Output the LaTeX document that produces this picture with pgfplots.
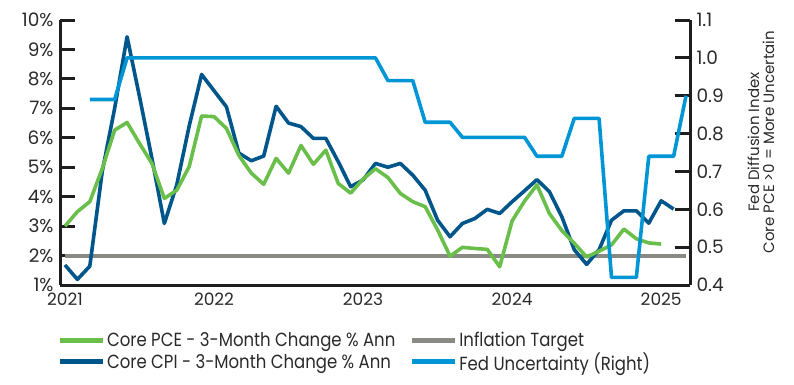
\documentclass[border=0pt]{standalone}
\usepackage{pgfplots}
\usepackage{pgfplotstable}
\pgfplotsset{compat=1.18}
\usepackage{fontspec}
\setmainfont{Poppins}
\newfontfamily\legfont{Poppins}[FakeStretch=0.87]
\definecolor{pcegreen}{HTML}{6ABF4B}
\definecolor{cpiblue}{HTML}{00568A}
\definecolor{fedblue}{HTML}{0096D6}
\definecolor{tgtgray}{HTML}{8A8A84}
\definecolor{axisblk}{HTML}{1E1E1E}
\definecolor{txt}{HTML}{2A2A2A}

\pgfplotstableread{
m v
0 3.00
1 3.49
2 3.83
3 4.95
4 6.26
5 6.52
6 5.81
7 5.13
8 3.94
9 4.22
10 5.02
11 6.74
12 6.72
13 6.32
14 5.40
15 4.80
16 4.42
17 5.30
18 4.80
19 5.74
20 5.10
21 5.58
22 4.45
23 4.12
24 4.60
25 4.95
26 4.65
27 4.11
28 3.83
29 3.66
30 2.87
31 1.98
32 2.28
33 2.24
34 2.21
35 1.62
36 3.18
37 3.85
38 4.40
39 3.43
40 2.85
41 2.42
42 1.95
43 2.15
44 2.36
45 2.90
46 2.57
47 2.43
48 2.39
}\pce

\pgfplotstableread{
m v
0 1.68
1 1.19
2 1.64
3 4.85
4 7.00
5 9.43
6 7.40
7 5.30
8 3.09
9 4.40
10 6.40
11 8.15
12 7.60
13 7.05
14 5.48
15 5.22
16 5.38
17 7.07
18 6.50
19 6.38
20 5.98
21 5.98
22 5.19
23 4.34
24 4.57
25 5.13
26 5.00
27 5.13
28 4.73
29 4.22
30 3.20
31 2.64
32 3.09
33 3.26
34 3.57
35 3.43
36 3.83
37 4.20
38 4.58
39 4.17
40 3.32
41 2.20
42 1.70
43 2.20
44 3.20
45 3.52
46 3.52
47 3.10
48 3.86
49 3.58
}\cpi

\pgfplotstableread{
m v
2 0.89
3 0.89
4 0.89
5 1.00
6 1.00
7 1.00
8 1.00
9 1.00
10 1.00
11 1.00
12 1.00
13 1.00
14 1.00
15 1.00
16 1.00
17 1.00
18 1.00
19 1.00
20 1.00
21 1.00
22 1.00
23 1.00
24 1.00
25 1.00
26 0.94
27 0.94
28 0.94
29 0.83
30 0.83
31 0.83
32 0.79
33 0.79
34 0.79
35 0.79
36 0.79
37 0.79
38 0.74
39 0.74
40 0.74
41 0.84
42 0.84
43 0.84
44 0.42
45 0.42
46 0.42
47 0.74
48 0.74
49 0.74
50 0.90
}\fed

\pgfplotsset{
  base/.style={
    scale only axis, width=630pt, height=265pt,
    at={(60pt,-285pt)}, anchor=south west,
    xmin=-0.4, xmax=50.32,
    axis line style={line width=3pt, color=axisblk, -},
    tick align=inside, major tick length=15pt,
    tick label style={font=\fontsize{18.5}{18.5}\selectfont, text=txt},
    clip=true,
  },
  every axis plot/.append style={line join=round},
}

\begin{document}
\begin{tikzpicture}
\path[use as bounding box] (0pt,0pt) rectangle (794pt,-384pt);
\begin{axis}[base,
  ymin=1, ymax=10,
  axis x line*=bottom, axis y line*=left,
  ytick={1,2,3,4,5,6,7,8,9,10},
  yticklabels={1\%,2\%,3\%,4\%,5\%,6\%,7\%,8\%,9\%,10\%},
  yticklabel style={xshift=-3pt},
  ytick style={line width=3pt, color=axisblk},
  xtick={0,12,24,36,48},
  xticklabels={2021,2022,2023,2024,2025},
  xtick style={draw=none},
  xticklabel style={font=\fontsize{17}{17}\selectfont, yshift=-4pt},
]
\addplot[tgtgray, line width=4pt] coordinates {(0,2) (50,2)};
\addplot[cpiblue, line width=3.6pt] table[x=m, y=v] {\cpi};
\addplot[pcegreen, line width=3.6pt] table[x=m, y=v] {\pce};
\end{axis}
\begin{axis}[base,
  ymin=0.4, ymax=1.1,
  axis y line*=right, axis x line=none,
  ytick={0.4,0.5,0.6,0.7,0.8,0.9,1.0,1.1},
  yticklabels={0.4,0.5,0.6,0.7,0.8,0.9,1.0,1.1},
  yticklabel style={xshift=3pt},
  ytick style={line width=3pt, color=axisblk},
  legend columns=2,
  legend cell align=left,
  legend image code/.code={\draw[#1, line width=5pt] (0pt,0pt) -- (43pt,0pt);},
  legend style={at={(axis description cs:-0.005,-0.17)}, anchor=north west,
    draw=none, fill=none, inner sep=0pt,
    font=\legfont\fontsize{19}{21}\selectfont, text=txt,
    /tikz/every even column/.append style={column sep=12pt}},
]
\addlegendimage{pcegreen}
\addlegendentry{Core PCE - 3-Month Change \% Ann}
\addlegendimage{tgtgray}
\addlegendentry{Inflation Target}
\addlegendimage{cpiblue}
\addlegendentry{Core CPI - 3-Month Change \% Ann}
\addlegendimage{fedblue}
\addlegendentry{Fed Uncertainty (Right)}
\addplot[fedblue, line width=3.6pt, forget plot] table[x=m, y=v] {\fed};
\end{axis}
\node[rotate=90, align=center, font=\fontsize{15}{15}\selectfont, text=txt] at (761pt,-142pt) {Fed Diffusion Index\\Core PCE >0 = More Uncertain};
\end{tikzpicture}
\end{document}
